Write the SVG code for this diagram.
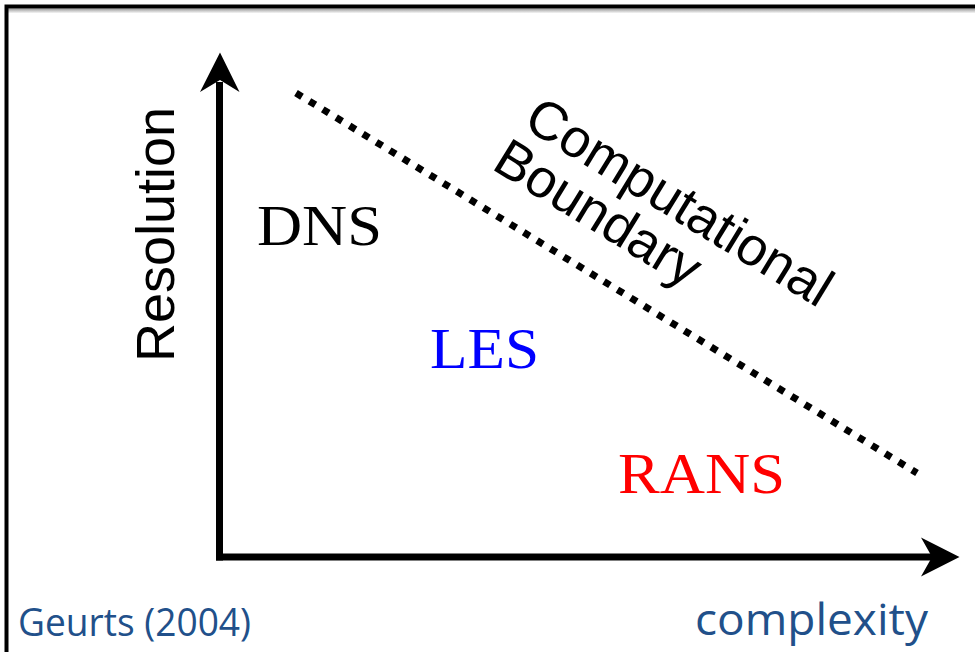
<svg xmlns="http://www.w3.org/2000/svg" width="975" height="652" viewBox="0 0 975 652">
  <defs>
    <linearGradient id="shadowTop" x1="0" y1="0" x2="0" y2="1">
      <stop offset="0" stop-color="#9a9a9a"/>
      <stop offset="1" stop-color="#ffffff"/>
    </linearGradient>
    <style>
      .serif { font-family: "Liberation Serif", "Times New Roman", serif; font-size: 58px; }
      .sans { font-family: "Liberation Sans", Arial, sans-serif; font-size: 54px; fill: #000; }
      .note { font-family: "Open Sans", "Noto Sans", sans-serif; fill: #21508a; }
      .axis { stroke: #000; stroke-width: 7; fill: none; }
      .head { fill: #000; }
    </style>
  </defs>
  <rect x="0" y="0" width="975" height="652" fill="#fff"/>
  <!-- frame -->
  <rect x="8" y="8.5" width="967" height="5" fill="url(#shadowTop)"/>
  <path d="M6.5,652 L6.5,6.5 L975,6.5" fill="none" stroke="#000" stroke-width="4"/>

  <g id="axes">
    <g id="y-axis">
      <line class="axis" x1="219.5" y1="560.5" x2="219.5" y2="82"/>
      <polygon class="head" points="220,52.5 239.5,92 220,80 200,92"/>
    </g>
    <g id="x-axis">
      <line class="axis" x1="216" y1="557" x2="934" y2="557"/>
      <polygon class="head" points="959.5,557 921,576.5 932,557 921,537.5"/>
    </g>
  </g>

  <g id="connectors">
    <line id="boundary-line" x1="296" y1="93" x2="917" y2="473" stroke="#000" stroke-width="7" stroke-dasharray="7 8.7"/>
  </g>

  <g id="label-resolution">
    <text class="sans" transform="translate(174,362) rotate(-90)">Resolution</text>
  </g>

  <g id="label-boundary" transform="translate(520,129) rotate(31.5)">
    <text class="sans" x="0" y="-3" font-size="54">Computational</text>
    <text class="sans" x="-5" y="49" font-size="54">Boundary</text>
  </g>

  <g id="node-dns">
    <text class="serif" x="257" y="245" fill="#000" textLength="125" lengthAdjust="spacingAndGlyphs">DNS</text>
  </g>
  <g id="node-les">
    <text class="serif" x="430" y="368" fill="#0000ff" textLength="109" lengthAdjust="spacingAndGlyphs">LES</text>
  </g>
  <g id="node-rans">
    <text class="serif" x="618" y="493" fill="#ff0000" textLength="167" lengthAdjust="spacingAndGlyphs">RANS</text>
  </g>

  <g id="label-geurts">
    <text class="note" x="18" y="636" font-size="38" textLength="233" lengthAdjust="spacingAndGlyphs">Geurts (2004)</text>
  </g>
  <g id="label-complexity">
    <text class="note" x="695" y="635" font-size="44" textLength="233" lengthAdjust="spacingAndGlyphs">complexity</text>
  </g>
</svg>
